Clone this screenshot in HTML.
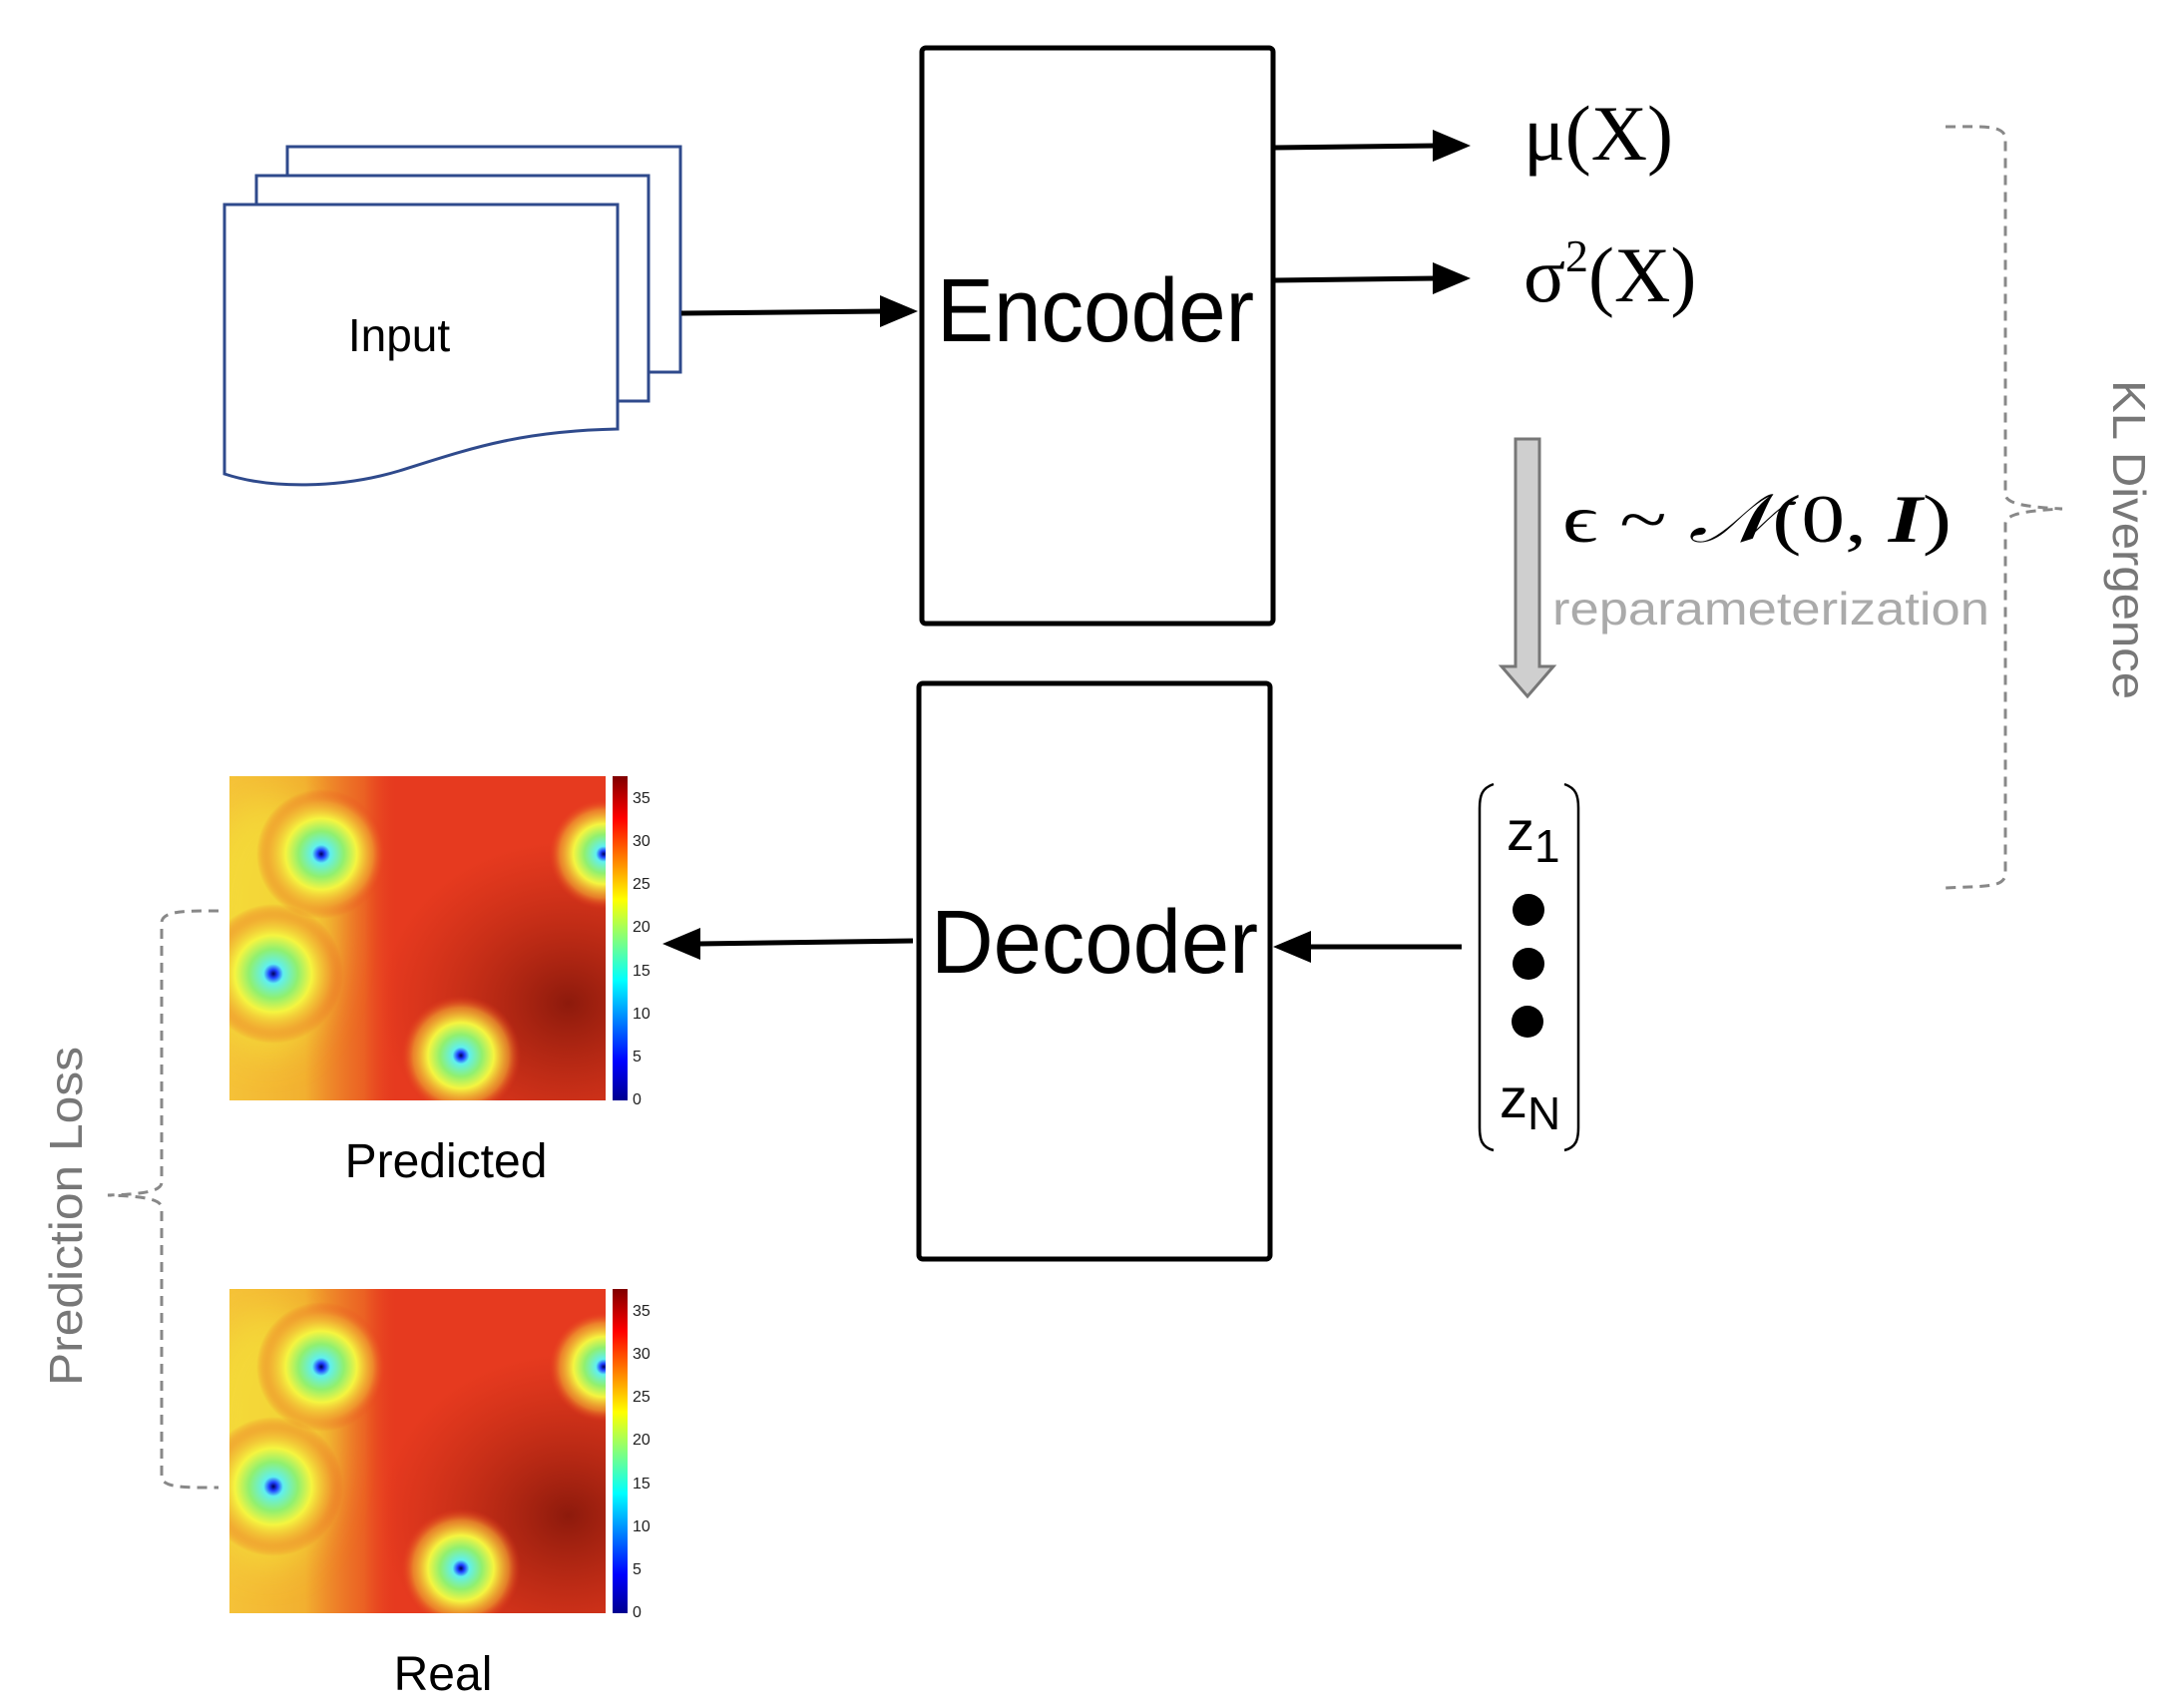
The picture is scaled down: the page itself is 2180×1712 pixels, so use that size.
<!DOCTYPE html>
<html><head><meta charset="utf-8"><style>html,body{margin:0;padding:0;background:#fff}svg{display:block}</style></head>
<body>
<svg width="2180" height="1712" viewBox="0 0 2180 1712" xmlns="http://www.w3.org/2000/svg">
<defs>
<filter id="bl" x="-50%" y="-50%" width="200%" height="200%"><feGaussianBlur stdDeviation="18"/></filter>
<linearGradient id="jet" x1="0" y1="1" x2="0" y2="0">
<stop offset="0" stop-color="#00008f"/><stop offset="0.12" stop-color="#0000ff"/><stop offset="0.37" stop-color="#00ffff"/><stop offset="0.62" stop-color="#ffff00"/><stop offset="0.87" stop-color="#ff0000"/><stop offset="1" stop-color="#800000"/>
</linearGradient>
<linearGradient id="leftY" x1="0" y1="0" x2="1" y2="0">
<stop offset="0" stop-color="#f5c238"/><stop offset="0.2" stop-color="#f2b030"/><stop offset="0.36" stop-color="#ee7a26" stop-opacity="0.6"/><stop offset="0.45" stop-color="#e8391e" stop-opacity="0"/>
</linearGradient>
<radialGradient id="dark" cx="0.9" cy="0.7" r="0.5">
<stop offset="0" stop-color="#8d1a0c"/><stop offset="1" stop-color="#b02510" stop-opacity="0"/>
</radialGradient>
<radialGradient id="blob">
<stop offset="0" stop-color="#00005a"/><stop offset="0.06" stop-color="#2040ff"/><stop offset="0.14" stop-color="#60f0f0"/><stop offset="0.35" stop-color="#90f070"/><stop offset="0.55" stop-color="#f5f540"/><stop offset="0.8" stop-color="#f0a030" stop-opacity="0.7"/><stop offset="1" stop-color="#e8391e" stop-opacity="0"/>
</radialGradient>
<clipPath id="hc"><rect x="0" y="0" width="377" height="325"/></clipPath>
<g id="heat">
<g clip-path="url(#hc)">
<rect x="0" y="0" width="377" height="325" fill="#e63a1f"/>
<rect x="0" y="0" width="377" height="325" fill="url(#dark)"/>
<rect x="0" y="0" width="377" height="325" fill="url(#leftY)"/>
<ellipse cx="40" cy="150" rx="70" ry="130" fill="#f4ee3a" opacity="0.55" filter="url(#bl)"/>
<circle cx="92" cy="78" r="65" fill="url(#blob)"/>
<circle cx="44" cy="198" r="70" fill="url(#blob)"/>
<circle cx="232" cy="280" r="60" fill="url(#blob)"/>
<circle cx="375" cy="78" r="55" fill="url(#blob)"/>
</g>
<rect x="384" y="0" width="15" height="325" fill="url(#jet)"/>
<g font-family="Liberation Sans, sans-serif" font-size="16" fill="#222">
<text x="404" y="27">35</text><text x="404" y="70">30</text><text x="404" y="113">25</text><text x="404" y="156">20</text><text x="404" y="200">15</text><text x="404" y="243">10</text><text x="404" y="286">5</text><text x="404" y="329">0</text>
</g>
</g>
</defs>

<g fill="#fff" stroke="#2f4a8c" stroke-width="3">
<rect x="288" y="147" width="394" height="226"/>
<rect x="257" y="176" width="393" height="226"/>
<path d="M225 205 H619 V430 C520 432 470 450 400 472 C340 490 270 490 225 475 Z"/>
</g>
<text x="400" y="352" font-family="Liberation Sans, sans-serif" font-size="46" text-anchor="middle" fill="#000">Input</text>

<rect x="924" y="48" width="352" height="577" rx="4" fill="none" stroke="#000" stroke-width="5"/>
<text x="1098" y="342" font-family="Liberation Sans, sans-serif" font-size="90" text-anchor="middle" textLength="318" lengthAdjust="spacingAndGlyphs">Encoder</text>
<rect x="921" y="685" width="352" height="577" rx="4" fill="none" stroke="#000" stroke-width="5"/>
<text x="1097" y="975" font-family="Liberation Sans, sans-serif" font-size="90" text-anchor="middle" textLength="328" lengthAdjust="spacingAndGlyphs">Decoder</text>

<g stroke="#000" stroke-width="5">
<line x1="683" y1="314" x2="885" y2="312"/>
<line x1="1277" y1="148" x2="1440" y2="146"/>
<line x1="1277" y1="281" x2="1440" y2="279"/>
<line x1="1465" y1="949" x2="1310" y2="949"/>
<line x1="915" y1="943" x2="700" y2="946"/>
</g>
<g fill="#000">
<polygon points="920,312 882,296 882,328"/>
<polygon points="1474,146 1436,130 1436,162"/>
<polygon points="1474,279 1436,263 1436,295"/>
<polygon points="1276,949 1314,933 1314,965"/>
<polygon points="664,946 702,930 702,962"/>
</g>

<text x="1527" y="160" font-family="Liberation Serif, serif" font-size="78" textLength="150" lengthAdjust="spacingAndGlyphs">μ(X)</text>
<text x="1527" y="302" font-family="Liberation Serif, serif" font-size="78">σ<tspan font-size="46" dy="-30">2</tspan><tspan dy="30">(X)</tspan></text>

<path d="M1519 440 H1543 V668 H1557 L1531 698 L1505 668 H1519 Z" fill="#cfcfcf" stroke="#777" stroke-width="3"/>
<text x="1566" y="543" font-family="Liberation Serif, serif" font-size="68" textLength="390" lengthAdjust="spacingAndGlyphs">ϵ ~ <tspan font-style="italic">𝒩</tspan>(0, <tspan font-weight="bold" font-style="italic">I</tspan>)</text>
<text x="1556" y="626" font-family="Liberation Sans, sans-serif" font-size="46" fill="#aaa" textLength="438" lengthAdjust="spacingAndGlyphs">reparameterization</text>

<path d="M1950 127 C1990 127 2010 125 2010 140 V495 C2010 505 2030 508 2067 510 C2030 512 2010 515 2010 525 V875 C2010 890 1990 888 1950 890" fill="none" stroke="#888" stroke-width="3" stroke-dasharray="10,7"/>
<text transform="translate(2118,541) rotate(90)" font-family="Liberation Sans, sans-serif" font-size="46" fill="#777" text-anchor="middle" textLength="320" lengthAdjust="spacingAndGlyphs">KL Divergence</text>

<path d="M1497 786 C1485 790 1483 798 1483 810 V1130 C1483 1142 1485 1150 1497 1153" fill="none" stroke="#000" stroke-width="2.5"/>
<path d="M1568 786 C1580 790 1582 798 1582 810 V1130 C1582 1142 1580 1150 1568 1153" fill="none" stroke="#000" stroke-width="2.5"/>
<text x="1510" y="852" font-family="Liberation Sans, sans-serif" font-size="56">z<tspan font-size="46" dy="12">1</tspan></text>
<circle cx="1532" cy="912" r="16"/><circle cx="1532" cy="966" r="16"/><circle cx="1531" cy="1024" r="16"/>
<text x="1503" y="1120" font-family="Liberation Sans, sans-serif" font-size="56">z<tspan font-size="46" dy="12">N</tspan></text>

<use href="#heat" x="230" y="778"/>
<use href="#heat" x="230" y="1292"/>
<text x="447" y="1180" font-family="Liberation Sans, sans-serif" font-size="48" text-anchor="middle">Predicted</text>
<text x="444" y="1694" font-family="Liberation Sans, sans-serif" font-size="48" text-anchor="middle">Real</text>

<path d="M219 913 C190 913 162 912 162 925 V1185 C162 1195 140 1197 108 1198 C140 1199 162 1201 162 1211 V1480 C162 1492 190 1491 219 1491" fill="none" stroke="#888" stroke-width="3" stroke-dasharray="10,7"/>
<text transform="translate(82,1219) rotate(-90)" font-family="Liberation Sans, sans-serif" font-size="46" fill="#777" text-anchor="middle" textLength="340" lengthAdjust="spacingAndGlyphs">Prediction Loss</text>
</svg>
</body></html>
